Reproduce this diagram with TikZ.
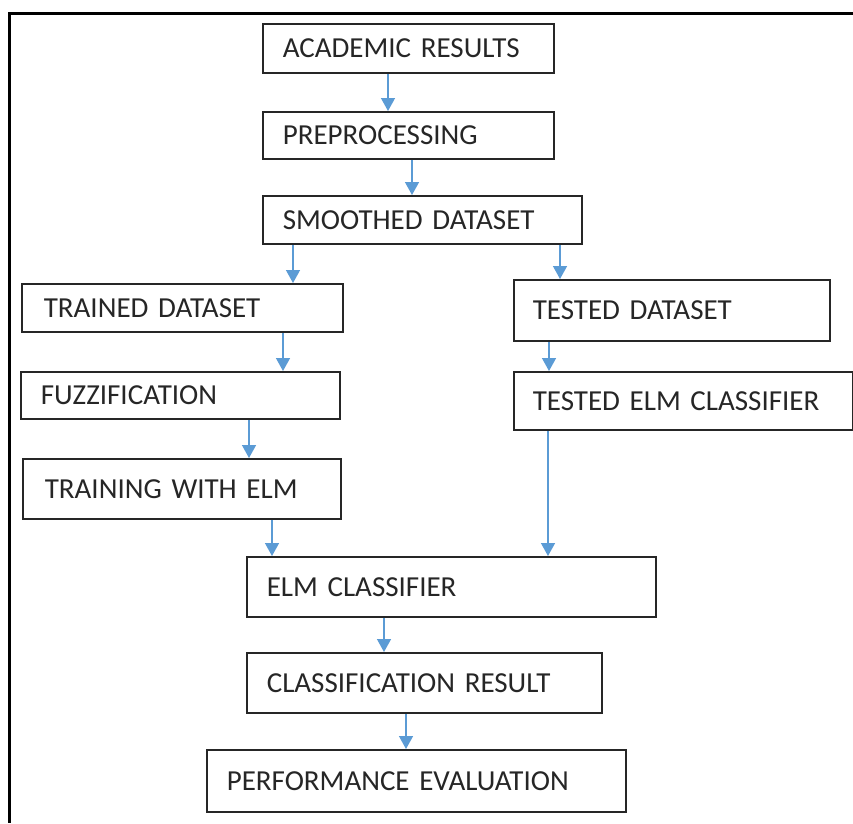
\documentclass[tikz,border=0pt]{standalone}
\usepackage{fontspec}
\setmainfont{Carlito}
\usepackage{tikz}
\definecolor{white}{rgb}{1.0, 1.0, 1.0}
\definecolor{ink}{RGB}{38,38,38}
\definecolor{flowblue}{RGB}{91,155,213}
\usetikzlibrary{arrows.meta}
\pgfdeclarelayer{edgelayer}
\pgfdeclarelayer{nodelayer}
\pgfsetlayers{edgelayer,nodelayer,main}
\tikzstyle{stage}=[draw=ink,line width=1.6pt,fill=white,anchor=north west,align=left,inner xsep=20pt,inner ysep=0pt,text=ink,font=\fontsize{29}{34}\selectfont]
\tikzstyle{flow}=[draw=flowblue,line width=1.4pt,-{Triangle[width=14pt,length=13pt]}]

\begin{document}
\begin{tikzpicture}[x=1pt,y=-1pt]
        \useasboundingbox (0,0) rectangle (853,823);
        \draw [line width=3pt] (853,13) -- (9,13) -- (9,823);

        \begin{pgfonlayer}{nodelayer}
            \node [style = stage, minimum width=291pt, minimum height=49pt, text width=251pt] (acad) at (262, 23) {ACADEMIC RESULTS};
            \node [style = stage, minimum width=291pt, minimum height=47pt, text width=251pt] (prep) at (262, 111) {PREPROCESSING};
            \node [style = stage, minimum width=319pt, minimum height=48pt, text width=279pt] (smooth) at (262, 195) {SMOOTHED DATASET};
            \node [style = stage, minimum width=321pt, minimum height=48pt, text width=277pt, inner xsep=22pt] (train) at (21, 283) {TRAINED DATASET};
            \node [style = stage, minimum width=316pt, minimum height=61pt, text width=278pt, inner xsep=19pt] (test) at (513, 279) {TESTED DATASET};
            \node [style = stage, minimum width=319pt, minimum height=47pt, text width=279pt] (fuzz) at (20, 371) {FUZZIFICATION};
            \node [style = stage, minimum width=339pt, minimum height=58pt, text width=301pt, inner xsep=19pt] (telm) at (513, 371) {TESTED ELM CLASSIFIER};
            \node [style = stage, minimum width=318pt, minimum height=60pt, text width=274pt, inner xsep=22pt] (trelm) at (22, 458) {TRAINING WITH ELM};
            \node [style = stage, minimum width=409pt, minimum height=60pt, text width=369pt] (elm) at (246, 556) {ELM CLASSIFIER};
            \node [style = stage, minimum width=355pt, minimum height=60pt, text width=315pt] (cres) at (246, 652) {CLASSIFICATION RESULT};
            \node [style = stage, minimum width=419pt, minimum height=62pt, text width=379pt] (perf) at (206, 749) {PERFORMANCE EVALUATION};
        \end{pgfonlayer}

        \begin{pgfonlayer}{edgelayer}
            \draw [style = flow] ([xshift=126pt]acad.south west) to ([xshift=126pt]prep.north west);
            \draw [style = flow] ([xshift=150pt]prep.south west) to ([xshift=150pt]smooth.north west);
            \draw [style = flow] ([xshift=31pt]smooth.south west) to ([xshift=272pt]train.north west);
            \draw [style = flow] ([xshift=298pt]smooth.south west) to ([xshift=47pt]test.north west);
            \draw [style = flow] ([xshift=262pt]train.south west) to ([xshift=263pt]fuzz.north west);
            \draw [style = flow] ([xshift=36pt]test.south west) to ([xshift=36pt]telm.north west);
            \draw [style = flow] ([xshift=229pt]fuzz.south west) to ([xshift=227pt]trelm.north west);
            \draw [style = flow] ([xshift=250pt]trelm.south west) to ([xshift=26pt]elm.north west);
            \draw [style = flow] ([xshift=35pt]telm.south west) to ([xshift=302pt]elm.north west);
            \draw [style = flow] ([xshift=138pt]elm.south west) to ([xshift=138pt]cres.north west);
            \draw [style = flow] ([xshift=160pt]cres.south west) to ([xshift=200pt]perf.north west);
        \end{pgfonlayer}
    \end{tikzpicture}
\end{document}
